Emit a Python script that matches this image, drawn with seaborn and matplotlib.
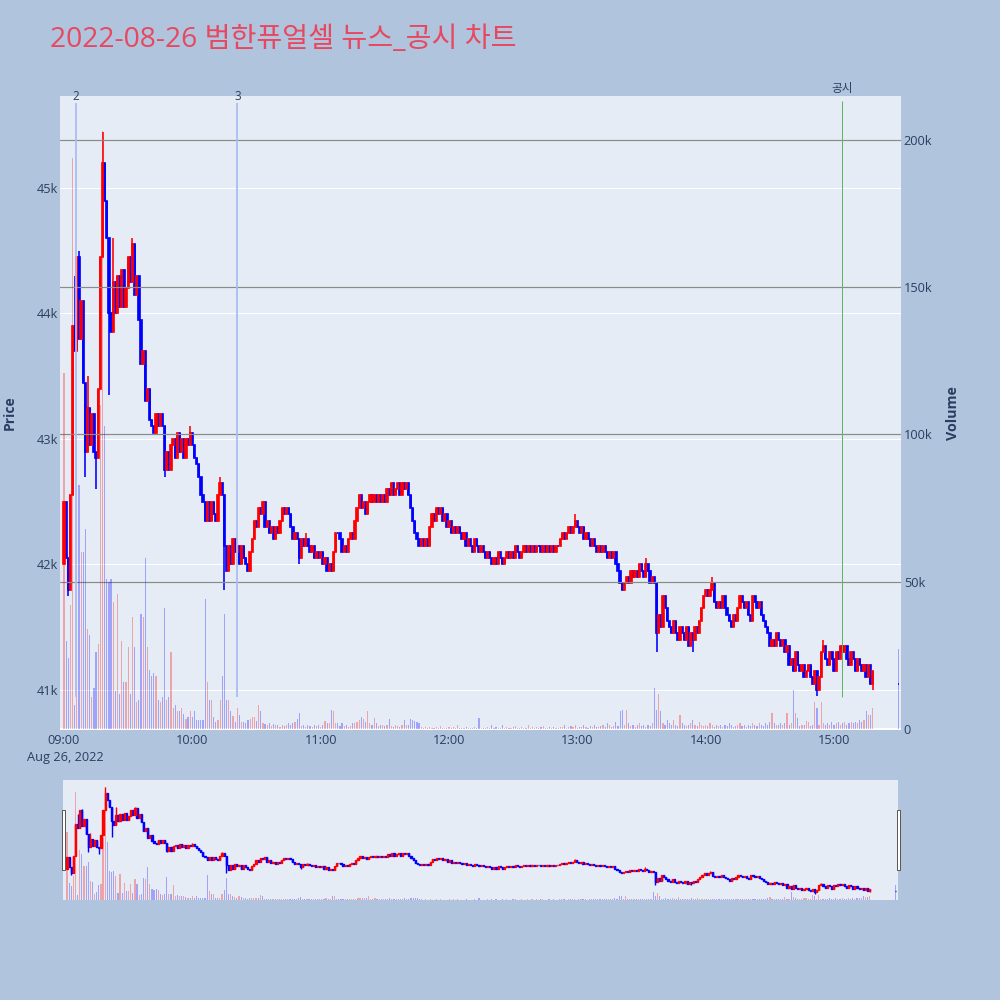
import numpy as np
import pandas as pd
import matplotlib
matplotlib.use("Agg")
import matplotlib.pyplot as plt
from matplotlib.patches import Rectangle
import seaborn as sns

# ---------------- data ----------------
title_text = "2022-08-26 범한퓨얼셀 뉴스_공시 차트"
session_date_label = "Aug 26, 2022"

first_open = 42000
# 1-minute closes from 09:00 (minute 0) to 15:18 (minute 378)
close_prices = [
    42500, 42050, 41800, 42550, 43900, 43700, 44450, 43800, 44100, 43450,
    42900, 43250, 42950, 43200, 42900, 42850, 43400, 44450, 45200, 44900,
    44600, 44000, 43850, 44250, 44000, 44300, 44050, 44350, 44050, 44200,
    44450, 44250, 44550, 44150, 44300, 43950, 43600, 43700, 43300, 43400,
    43150, 43100, 43050, 43200, 43100, 43200, 43100, 42750, 42900, 42750,
    42950, 43000, 42850, 43050, 42900, 43000, 42850, 43000, 42950, 43050,
    42950, 42850, 42800, 42700, 42550, 42500, 42350, 42500, 42350, 42500,
    42400, 42350, 42550, 42650, 42550, 42150, 41950, 42150, 42000, 42200,
    42100, 42150, 42000, 42150, 42050, 42000, 41950, 42100, 42200, 42350,
    42300, 42450, 42400, 42500, 42300, 42350, 42250, 42300, 42200, 42300,
    42250, 42350, 42450, 42400, 42450, 42400, 42300, 42200, 42250, 42200,
    42050, 42200, 42150, 42200, 42150, 42100, 42150, 42050, 42100, 42050,
    42100, 42000, 42050, 41950, 42000, 41950, 42100, 42250, 42250, 42200,
    42100, 42150, 42100, 42200, 42250, 42200, 42350, 42450, 42550, 42450,
    42500, 42400, 42500, 42550, 42500, 42550, 42500, 42550, 42500, 42550,
    42500, 42600, 42550, 42650, 42550, 42600, 42650, 42550, 42650, 42600,
    42650, 42550, 42450, 42350, 42250, 42200, 42150, 42200, 42150, 42200,
    42150, 42300, 42400, 42350, 42450, 42400, 42450, 42350, 42400, 42300,
    42350, 42250, 42300, 42250, 42300, 42250, 42200, 42250, 42150, 42200,
    42150, 42100, 42200, 42150, 42100, 42150, 42100, 42050, 42100, 42050,
    42000, 42050, 42000, 42100, 42050, 42000, 42050, 42100, 42050, 42100,
    42050, 42150, 42100, 42050, 42100, 42150, 42100, 42150, 42100, 42150,
    42100, 42150, 42150, 42100, 42150, 42100, 42150, 42100, 42150, 42100,
    42150, 42150, 42200, 42250, 42200, 42250, 42300, 42250, 42300, 42350,
    42300, 42250, 42300, 42200, 42250, 42200, 42150, 42200, 42150, 42100,
    42150, 42100, 42150, 42100, 42050, 42100, 42050, 42100, 42000, 41950,
    41850, 41800, 41850, 41900, 41850, 41950, 41900, 41950, 41900, 42000,
    41950, 41900, 42000, 41950, 41850, 41900, 41850, 41450, 41600, 41500,
    41750, 41650, 41550, 41500, 41450, 41550, 41450, 41400, 41500, 41450,
    41400, 41500, 41350, 41450, 41400, 41500, 41450, 41550, 41650, 41750,
    41800, 41750, 41800, 41850, 41700, 41650, 41700, 41650, 41750, 41650,
    41600, 41550, 41500, 41600, 41550, 41650, 41750, 41700, 41650, 41700,
    41600, 41550, 41750, 41700, 41650, 41700, 41600, 41550, 41500, 41450,
    41350, 41400, 41350, 41450, 41400, 41350, 41400, 41300, 41350, 41200,
    41250, 41150, 41300, 41200, 41150, 41200, 41100, 41150, 41200, 41100,
    41050, 41150, 41000, 41100, 41300, 41350, 41250, 41200, 41300, 41250,
    41150, 41300, 41250, 41350, 41300, 41350, 41250, 41200, 41300, 41250,
    41150, 41250, 41200, 41150, 41200, 41100, 41200, 41050, 41150,
]
# wicks that reach beyond the body (minute -> price)
high_wicks = {5: 44300, 7: 44500, 11: 43500, 18: 45450, 23: 44600, 32: 44600,
              59: 43100, 73: 42700, 113: 42250, 239: 42400, 272: 42050,
              303: 41900, 355: 41400}
low_wicks = {2: 41750, 10: 42700, 15: 42600, 21: 43350, 47: 42700, 75: 41800,
             110: 42000, 277: 41300, 294: 41300, 352: 40950, 378: 41000}

# 1-minute volume, thousands of shares
volumes_k = [
    121, 30, 24, 42, 194, 8, 90, 83, 60, 60,
    68, 34, 32, 11, 14, 26, 29, 110, 203, 103,
    51, 50, 51, 43, 13, 46, 12, 30, 16, 16,
    28, 12, 38, 28, 9, 10, 39, 38, 58, 28,
    20, 18, 19, 18, 10, 9, 11, 41, 10, 11,
    26, 7, 8, 6, 6, 7, 5, 3.5, 4, 6,
    4, 6, 3, 3, 3, 3, 44, 16, 10, 10,
    4, 2.5, 3, 10, 18, 39, 10, 10, 6, 4.5,
    2.5, 7, 4.7, 2.5, 2.5, 2.2, 3, 3.5, 4, 4,
    2.8, 8, 6, 2, 1.7, 1.4, 2, 1, 1.7, 1.2,
    1.5, 0.8, 1.2, 1.0, 1.5, 2, 1.2, 2, 2.3, 3.4,
    5.4, 1, 1.5, 0.8, 1.2, 1, 0.8, 1.5, 1, 1.2,
    0.8, 1.5, 2.8, 1.9, 1.9, 6.5, 6, 2.2, 2, 1,
    2, 1, 1.2, 0.8, 1, 2, 2.2, 2.5, 3, 4,
    3.4, 2.5, 6, 2, 1.5, 3.7, 2, 1, 1.5, 1.2,
    1, 1.5, 3.4, 1, 0.8, 1.2, 1, 0.8, 1.5, 3,
    1.5, 1.2, 3.4, 3, 2.7, 2.5, 2, 0.8, 0.5, 0.6,
    0.4, 0.8, 0.5, 0.3, 0.6, 0.4, 1, 0.5, 0.3, 0.5,
    0.8, 0.4, 0.6, 0.5, 1.5, 0.4, 0.3, 0.5, 0.8, 0.4,
    0.5, 0.3, 0.6, 0.4, 3.7, 0.5, 0.4, 0.3, 0.6, 0.5,
    1.5, 0.4, 0.6, 0.3, 0.5, 1.5, 0.4, 0.8, 0.3, 0.5,
    0.6, 1, 0.4, 0.5, 0.8, 0.3, 0.5, 1.2, 0.4, 0.6,
    0.5, 0.8, 0.4, 0.6, 1, 0.5, 0.4, 0.8, 0.5, 0.6,
    0.4, 0.5, 0.8, 0.6, 1.4, 0.5, 0.6, 1, 0.8, 1.4,
    0.5, 0.6, 0.8, 1.4, 0.6, 0.5, 1, 0.8, 1.4, 0.6,
    0.8, 1, 1.4, 0.6, 2, 1.2, 0.8, 1, 2.5, 1,
    6, 6.5, 1.2, 6.5, 2, 1, 1.5, 0.8, 1.2, 2,
    1, 1.5, 0.8, 1.2, 1, 2, 13.8, 6.5, 12, 6.2,
    2, 1.5, 3, 2, 1.2, 3, 1.5, 1, 4.7, 2,
    1.5, 1, 1.2, 2, 3, 1.5, 1, 2.5, 1.2, 1,
    1.5, 1, 2, 1.2, 0.8, 1.5, 1, 1.2, 0.8, 1.5,
    1, 2, 1.2, 0.8, 1, 1.5, 2, 1, 1.2, 0.8,
    1.5, 1, 2, 1.2, 1, 2, 1.5, 1, 2, 1.5,
    2.5, 5.3, 2, 1.5, 1.2, 2, 1.5, 2, 5.5, 1.2,
    2, 13.2, 5.3, 3.6, 1, 1.5, 1.2, 2.8, 2.5, 1,
    1.5, 9.3, 7, 1.5, 9, 2, 1.5, 2, 1.2, 2.5,
    1.5, 2, 2.5, 1.5, 2, 2.5, 1.5, 2, 2.5, 2,
    2.5, 2, 3, 2.5, 3, 6.2, 4.7, 4.7, 7.2,
]

# closing auction (15:30)
auction_minute = 390
auction_open = 41050
auction_close = 41050
auction_volume_k = 27

# news / disclosure markers
news_minutes = [5.5, 81.0, 363.7]
news_labels = ["2", "3", "공시"]

x_tick_minutes = [0, 60, 120, 180, 240, 300, 360]
x_tick_labels = ["09:00", "10:00", "11:00", "12:00", "13:00", "14:00", "15:00"]
price_ticks = [41000, 42000, 43000, 44000, 45000]
price_tick_labels = ["41k", "42k", "43k", "44k", "45k"]
volume_ticks = [0, 50000, 100000, 150000, 200000]
volume_tick_labels = ["0", "50k", "100k", "150k", "200k"]

# ---------------- frame ----------------
n = len(close_prices)
df = pd.DataFrame({
    "minute": list(range(n)) + [auction_minute],
    "open": [first_open] + close_prices[:-1] + [auction_open],
    "close": close_prices + [auction_close],
    "volume": [v * 1000 for v in volumes_k] + [auction_volume_k * 1000],
})
df["high"] = df[["open", "close"]].max(axis=1)
df["low"] = df[["open", "close"]].min(axis=1)
for m, p in high_wicks.items():
    df.loc[df.minute == m, "high"] = np.maximum(df.loc[df.minute == m, "high"], p)
for m, p in low_wicks.items():
    df.loc[df.minute == m, "low"] = np.minimum(df.loc[df.minute == m, "low"], p)
df["color"] = np.where(df["close"] > df["open"], "#ff0000", "#0000ff")
df["body_lo"] = df[["open", "close"]].min(axis=1)
df["body_h"] = (df["close"] - df["open"]).abs()

# ---------------- style ----------------
sns.set_theme(style="darkgrid")
plt.rcParams["font.family"] = ["Open Sans", "Noto Sans CJK KR", "DejaVu Sans"]
FIG_BG = "#B0C4DE"
PLOT_BG = "#E5ECF6"
TXT = "#2a3f5f"
PX = 0.72  # points per pixel at dpi 100
TICK_FS = 9.2

fig = plt.figure(figsize=(10, 10), dpi=100, facecolor=FIG_BG)

def fx(px):
    return px / 1000.0

def fy(py):
    return 1 - py / 1000.0

XLIM = (-1.87, 391.3)
PRICE_LIM = (40681, 45733)
VOL_LIM = (-340, 214900)

ax = fig.add_axes([fx(60), fy(730), fx(901 - 60), (730 - 96) / 1000.0])
ax.set_facecolor(PLOT_BG)
ax2 = ax.twinx()
ax2.patch.set_visible(False)


def draw_candles(a, data, body_w, wick_px, edge_px):
    for color, sub in data.groupby("color"):
        a.vlines(sub["minute"], sub["low"], sub["high"], color=color,
                 lw=wick_px * PX, zorder=3)
        a.bar(sub["minute"], sub["body_h"], bottom=sub["body_lo"], width=body_w,
              color=color, edgecolor=color, linewidth=edge_px * PX, zorder=3)


def draw_volume(a, data, w):
    for color, sub in data.groupby("color"):
        a.bar(sub["minute"], sub["volume"], width=w, color=color, alpha=0.3,
              linewidth=0, zorder=2)


# price axis
draw_candles(ax, df, 0.62, 1.6, 1.7)
ax.set_xlim(*XLIM)
ax.set_ylim(*PRICE_LIM)
ax.set_yticks(price_ticks)
ax.set_yticklabels(price_tick_labels)
ax.set_xticks(x_tick_minutes)
ax.set_xticklabels(x_tick_labels)
ax.grid(False)
ax.grid(axis="y", color="white", lw=1 * PX, zorder=0)
ax.set_axisbelow(True)
ax.tick_params(axis="y", length=0, pad=1.5, labelsize=TICK_FS, labelcolor=TXT)
ax.tick_params(axis="x", length=0, pad=3.0, labelsize=TICK_FS, labelcolor=TXT)
for s in ax.spines.values():
    s.set_visible(False)

# volume axis (overlay)
draw_volume(ax2, df, 0.55)
ax2.set_xlim(*XLIM)
ax2.set_ylim(*VOL_LIM)
ax2.set_yticks(volume_ticks)
ax2.set_yticklabels(volume_tick_labels)
ax2.grid(False)
ax2.grid(axis="y", color="#8a8a8a", lw=1.2 * PX, zorder=1)
ax2.set_axisbelow(True)
ax2.axhline(0, color="white", lw=2 * PX, zorder=1)
ax2.tick_params(axis="y", length=0, pad=2, labelsize=TICK_FS, labelcolor=TXT)
for s in ax2.spines.values():
    s.set_visible(False)

# news markers
trans = ax2.get_xaxis_transform()
y_lo = (730 - 697) / 634.0
for m, lab in zip(news_minutes, news_labels):
    if lab == "공시":
        ax2.vlines(m, y_lo, (730 - 101) / 634.0, transform=trans,
                   color="#5cb85c", lw=1 * PX, zorder=6)
        ax2.text(m, (730 - 95) / 634.0, lab, transform=trans, ha="center",
                 va="bottom", fontsize=8.4, color=TXT, clip_on=False)
    else:
        ax2.vlines(m, y_lo, (730 - 103) / 634.0, transform=trans,
                   color="#a9bcf2", lw=1.8 * PX, zorder=6)
        ax2.text(m, (730 - 97) / 634.0, lab, transform=trans, ha="center",
                 va="center", fontsize=8.4, color=TXT, clip_on=False)

# labels
fig.text(fx(50), fy(40), title_text, fontsize=20.3, color="#e8485f",
         ha="left", va="center")
fig.text(fx(10), fy(413), "Price", rotation=90, fontsize=10, fontweight="bold",
         color=TXT, ha="center", va="center")
fig.text(fx(953), fy(413), "Volume", rotation=90, fontsize=10.3, fontweight="bold",
         color=TXT, ha="center", va="center")
fig.text(fx(65), fy(758), session_date_label, fontsize=TICK_FS, color=TXT,
         ha="center", va="center")

# range slider
axs = fig.add_axes([fx(63), fy(900), fx(898 - 63), 0.120])
axs.set_facecolor(PLOT_BG)
axs2 = axs.twinx()
axs2.patch.set_visible(False)
draw_candles(axs, df, 0.55, 1.4, 1.4)
draw_volume(axs2, df, 0.55)
for a, lim in ((axs, PRICE_LIM), (axs2, VOL_LIM)):
    a.set_xlim(*XLIM)
    a.set_ylim(*lim)
    a.grid(False)
    a.set_xticks([])
    a.set_yticks([])
    for s in a.spines.values():
        s.set_visible(False)

for hx in (63, 898):
    fig.patches.append(Rectangle((fx(hx - 1.5), fy(870)), 0.003, 0.060,
                                 transform=fig.transFigure, facecolor="white",
                                 edgecolor="#555555", linewidth=0.7, zorder=10))

fig.savefig("out.png", dpi=100, facecolor=FIG_BG)
